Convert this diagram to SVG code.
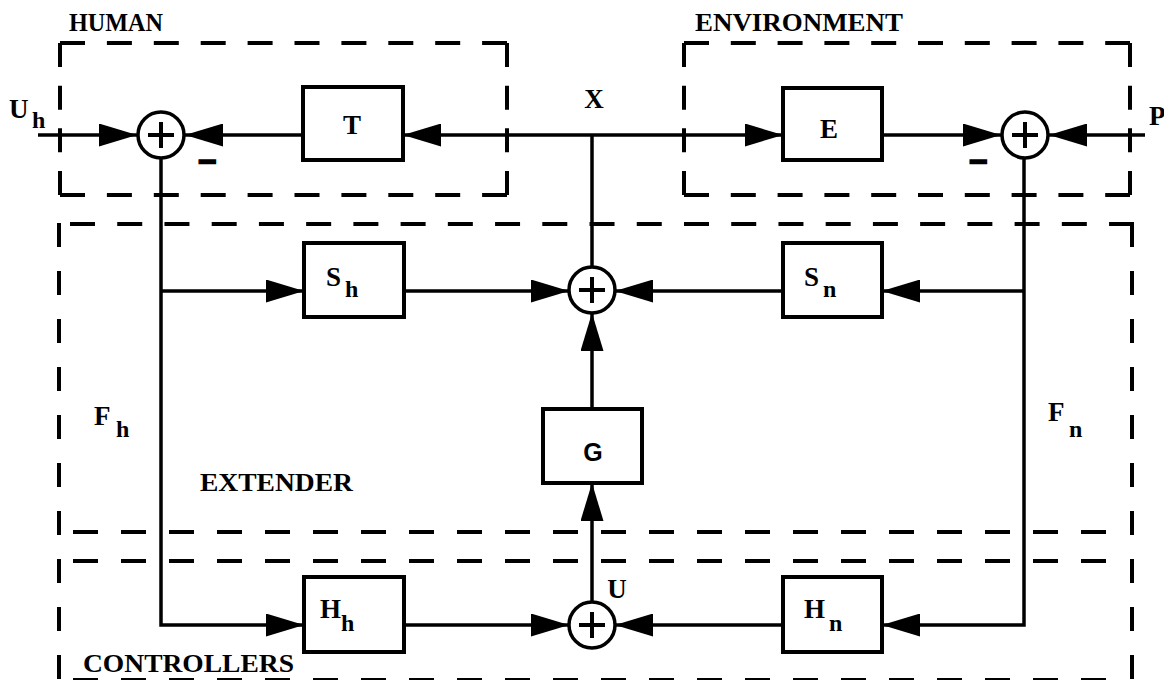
<svg xmlns="http://www.w3.org/2000/svg" width="1164" height="680" viewBox="0 0 1164 680">
<style>
.ln{stroke:#000;stroke-width:3.5;fill:none}
.box{fill:#fff;stroke:#000;stroke-width:4}
.sum{fill:#fff;stroke:#000;stroke-width:3.5}
.plus{stroke:#000;stroke-width:4;fill:none}
.dash{stroke:#000;stroke-width:4;fill:none}
.t{font-family:"Liberation Serif",serif;font-weight:bold;font-size:25px;fill:#000}
.k{font-size:27px}
.s{font-size:24px}
.g{font-family:"Liberation Sans",sans-serif;font-weight:bold;font-size:25px;fill:#000}
.mn{font-family:"Liberation Sans",sans-serif;font-weight:bold;font-size:34px;fill:#000;stroke:#000;stroke-width:1.4}
</style>
<defs>
<marker id="ah" viewBox="0 0 38 23" refX="38" refY="11.5" markerWidth="38" markerHeight="23" markerUnits="userSpaceOnUse" orient="auto">
<path d="M0,0 L38,11.5 L0,23 Z" fill="#000"/>
</marker>
</defs>
<rect width="1164" height="680" fill="#fff"/>

<g id="frames">
<g id="human-frame">
<path class="dash" d="M60,43 H507 M60,195 H507" stroke-dasharray="25 21.9"/>
<path class="dash" d="M60,43 V195 M507,43 V195" stroke-dasharray="24 18.67"/>
<text class="t" x="69" y="31" textLength="94" lengthAdjust="spacingAndGlyphs">HUMAN</text>
</g>
<g id="environment-frame">
<path class="dash" d="M684,43 H1130 M684,195 H1130" stroke-dasharray="25 21.8"/>
<path class="dash" d="M684,43 V195 M1130,43 V195" stroke-dasharray="24 18.67"/>
<text class="t" x="695" y="31" textLength="208" lengthAdjust="spacingAndGlyphs">ENVIRONMENT</text>
</g>
<g id="extender-frame">
<path class="dash" d="M70,224 H1134" stroke-dasharray="25 22.23"/>
<path class="dash" d="M59,223 V680 M1132,223 V680" stroke-dasharray="24 24"/>
<path class="dash" d="M73,532 H1107" stroke-dasharray="25 23"/>
<text class="t" x="200" y="491" textLength="153" lengthAdjust="spacingAndGlyphs">EXTENDER</text>
</g>
<g id="controllers-frame">
<path class="dash" d="M73,561 H1107 M73,680 H1107" stroke-dasharray="25 23"/>
<text class="t" x="83" y="672" textLength="211" lengthAdjust="spacingAndGlyphs">CONTROLLERS</text>
</g>
</g>

<g id="connectors">
<path class="ln" d="M38,135 H137" marker-end="url(#ah)"/>
<path class="ln" d="M303,135 H185" marker-end="url(#ah)"/>
<path class="ln" d="M592,135 H403" marker-end="url(#ah)"/>
<path class="ln" d="M592,135 H783" marker-end="url(#ah)"/>
<path class="ln" d="M592,135 V267"/>
<path class="ln" d="M882,135 H1001" marker-end="url(#ah)"/>
<path class="ln" d="M1145,135 H1049" marker-end="url(#ah)"/>
<path class="ln" d="M161,158 V625 H304" marker-end="url(#ah)"/>
<path class="ln" d="M161,291 H304" marker-end="url(#ah)"/>
<path class="ln" d="M404,291 H569" marker-end="url(#ah)"/>
<path class="ln" d="M1024,158 V625 H882" marker-end="url(#ah)"/>
<path class="ln" d="M1024,291 H882" marker-end="url(#ah)"/>
<path class="ln" d="M783,291 H615" marker-end="url(#ah)"/>
<path class="ln" d="M592,409 V313" marker-end="url(#ah)"/>
<path class="ln" d="M592,602 V483" marker-end="url(#ah)"/>
<path class="ln" d="M404,625 H569" marker-end="url(#ah)"/>
<path class="ln" d="M783,625 H615" marker-end="url(#ah)"/>
</g>

<g id="sum-human">
<circle class="sum" cx="161" cy="135" r="23"/>
<path class="plus" d="M148,135 H174 M161,122 V148"/>
<text class="mn" x="198" y="173" textLength="19" lengthAdjust="spacingAndGlyphs">−</text>
</g>
<g id="sum-env">
<circle class="sum" cx="1025" cy="135" r="23"/>
<path class="plus" d="M1012,135 H1038 M1025,122 V148"/>
<text class="mn" x="969" y="173" textLength="19" lengthAdjust="spacingAndGlyphs">−</text>
</g>
<g id="sum-x">
<circle class="sum" cx="592" cy="290" r="23"/>
<path class="plus" d="M579,290 H605 M592,277 V303"/>
</g>
<g id="sum-u">
<circle class="sum" cx="592" cy="625" r="23"/>
<path class="plus" d="M579,625 H605 M592,612 V638"/>
</g>

<g id="node-T">
<rect class="box" x="303" y="87" width="100" height="73"/>
<text class="t k" x="352" y="134" text-anchor="middle">T</text>
</g>
<g id="node-E">
<rect class="box" x="783" y="88" width="99" height="72"/>
<text class="t k" x="829" y="138" text-anchor="middle">E</text>
</g>
<g id="node-Sh">
<rect class="box" x="304" y="243" width="100" height="74"/>
<text class="t k" x="326" y="286">S</text><text class="t s" x="345" y="297">h</text>
</g>
<g id="node-Sn">
<rect class="box" x="783" y="243" width="99" height="74"/>
<text class="t k" x="804" y="286">S</text><text class="t s" x="823" y="297">n</text>
</g>
<g id="node-G">
<rect class="box" x="543" y="409" width="99" height="74"/>
<text class="g k" x="593" y="461" text-anchor="middle">G</text>
</g>
<g id="node-Hh">
<rect class="box" x="304" y="577" width="100" height="75"/>
<text class="t k" x="320" y="618">H</text><text class="t s" x="341" y="631">h</text>
</g>
<g id="node-Hn">
<rect class="box" x="783" y="577" width="99" height="75"/>
<text class="t k" x="804" y="618">H</text><text class="t s" x="829" y="631">n</text>
</g>

<g id="labels">
<text class="t k" x="9" y="118">U</text><text class="t s" x="32" y="128">h</text>
<text class="t k" x="594" y="108" text-anchor="middle">X</text>
<text class="t k" x="1149" y="125">P</text>
<text class="t k" x="94" y="425">F</text><text class="t s" x="116" y="437">h</text>
<text class="t k" x="1048" y="421">F</text><text class="t s" x="1069" y="437">n</text>
<text class="t k" x="617" y="598" text-anchor="middle">U</text>
</g>
</svg>
